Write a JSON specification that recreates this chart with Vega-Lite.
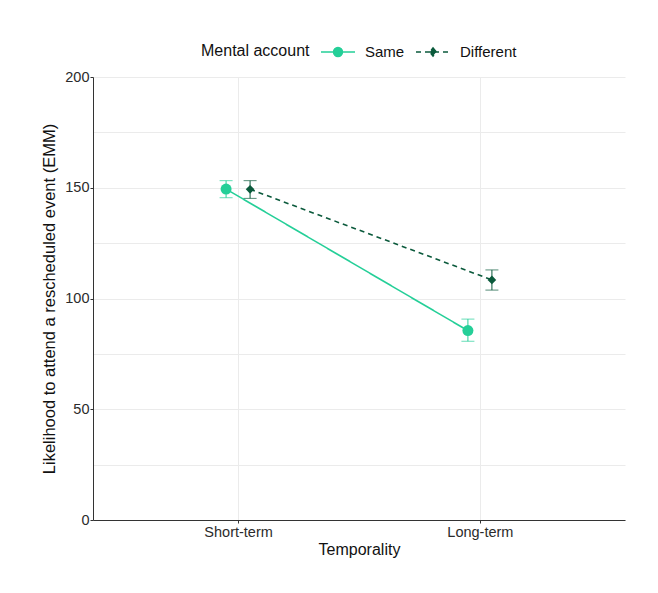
{
  "$schema": "https://vega.github.io/schema/vega-lite/v6.json",
  "autosize": {"type": "none"},
  "width": 532,
  "height": 443,
  "padding": {"left": 93, "top": 77, "right": 33, "bottom": 73},
  "background": "white",
  "config": {
    "font": "Liberation Sans",
    "view": {"stroke": null},
    "legend": {"padding": 0},
    "axis": {
      "gridColor": "#ebebeb",
      "gridWidth": 1,
      "domainColor": "#333333",
      "domainWidth": 1,
      "tickColor": "#333333",
      "tickSize": 3,
      "labelFontSize": 14.5,
      "labelColor": "#2b2b2b",
      "titleFontSize": 16,
      "titleFontWeight": "normal",
      "titleColor": "#111111",
      "labelFont": "Liberation Sans",
      "titleFont": "Liberation Sans"
    }
  },
  "data": {
    "values": [
      {"temporality": "Short-term", "account": "Same", "emm": 149.4, "lo": 145.5, "hi": 153.2},
      {"temporality": "Short-term", "account": "Different", "emm": 149.3, "lo": 145.2, "hi": 153.2},
      {"temporality": "Long-term", "account": "Same", "emm": 85.5, "lo": 80.7, "hi": 90.7},
      {"temporality": "Long-term", "account": "Different", "emm": 108.4, "lo": 103.8, "hi": 112.9}
    ]
  },
  "encoding": {
    "x": {
      "field": "temporality",
      "type": "nominal",
      "sort": ["Short-term", "Long-term"],
      "scale": {"type": "point", "domain": ["Short-term", "Long-term"], "padding": 0.6},
      "axis": {"title": "Temporality", "labelAngle": 0, "grid": true, "labelPadding": 2, "titlePadding": 3}
    },
    "xOffset": {
      "field": "account",
      "type": "nominal",
      "scale": {"type": "point", "domain": ["Same", "Different"], "range": [-12, 12], "padding": 0}
    },
    "color": {
      "field": "account",
      "type": "nominal",
      "scale": {"domain": ["Same", "Different"], "range": ["#25cf98", "#0b5a3c"]},
      "legend": {
        "title": "Mental account",
        "values": ["Same"],
        "orient": "none",
        "legendX": 108,
        "legendY": -43,
        "direction": "horizontal",
        "titleOrient": "left",
        "titleAnchor": "middle",
        "titleBaseline": "line-top",
        "titleLineHeight": 9,
        "titleFontSize": 16,
        "titleFontWeight": "normal",
        "titleColor": "#111111",
        "titlePadding": 10,
        "labelFontSize": 15,
        "labelColor": "#111111",
        "labelOffset": 9,
        "symbolSize": 1156,
        "symbolStrokeWidth": 1.6,
        "symbolOpacity": 1,
        "symbolType": "M-1,0L1,0M0.26,0A0.26,0.26,0,1,1,-0.26,0A0.26,0.26,0,1,1,0.26,0Z"
      }
    }
  },
  "layer": [
    {
      "mark": {"type": "line", "strokeWidth": 1.6},
      "encoding": {
        "y": {
          "field": "emm",
          "type": "quantitative",
          "scale": {"domain": [0, 200], "nice": false},
          "axis": {
            "title": "Likelihood to attend a rescheduled event (EMM)",
            "titleFontSize": 16.5,
            "values": [0, 25, 50, 75, 100, 125, 150, 175, 200],
            "labelExpr": "datum.value % 50 === 0 ? datum.label : ''",
            "tickOpacity": {"condition": {"test": "datum.value % 50 !== 0", "value": 0}, "value": 1},
            "labelPadding": 1,
            "titlePadding": 7,
            "grid": true
          }
        },
        "strokeDash": {
          "field": "account",
          "type": "nominal",
          "scale": {"domain": ["Different", "Same"], "range": [[5, 4], [1, 0]]},
          "legend": {
            "title": null,
            "values": ["Different"],
            "orient": "none",
            "legendX": 322,
            "legendY": -43,
            "direction": "horizontal",
            "labelFontSize": 15,
            "labelColor": "#111111",
            "labelOffset": 9,
            "symbolSize": 1156,
            "symbolStrokeWidth": 1.6,
            "symbolOpacity": 1,
            "symbolFillColor": "#0b5a3c",
            "symbolStrokeColor": "#0b5a3c",
            "symbolType": "M-1,0L1,0M0,-0.24L0.19,0L0,0.24L-0.19,0Z"
          }
        }
      }
    },
    {
      "mark": {"type": "rule", "strokeWidth": 1},
      "encoding": {
        "y": {"field": "lo", "type": "quantitative"},
        "y2": {"field": "hi"}
      }
    },
    {
      "mark": {"type": "tick", "thickness": 1, "size": 13, "orient": "horizontal"},
      "encoding": {"y": {"field": "lo", "type": "quantitative"}}
    },
    {
      "mark": {"type": "tick", "thickness": 1, "size": 13, "orient": "horizontal"},
      "encoding": {"y": {"field": "hi", "type": "quantitative"}}
    },
    {
      "transform": [{"filter": "datum.account === 'Same'"}],
      "mark": {"type": "point", "filled": true, "opacity": 1, "size": 121, "color": "#25cf98"},
      "encoding": {
        "y": {"field": "emm", "type": "quantitative"},
        "color": {"value": "#25cf98"}
      }
    },
    {
      "transform": [{"filter": "datum.account === 'Different'"}],
      "mark": {"type": "point", "filled": true, "opacity": 1, "size": 75, "shape": "diamond", "color": "#0b5a3c"},
      "encoding": {
        "y": {"field": "emm", "type": "quantitative"},
        "color": {"value": "#0b5a3c"}
      }
    }
  ]
}
